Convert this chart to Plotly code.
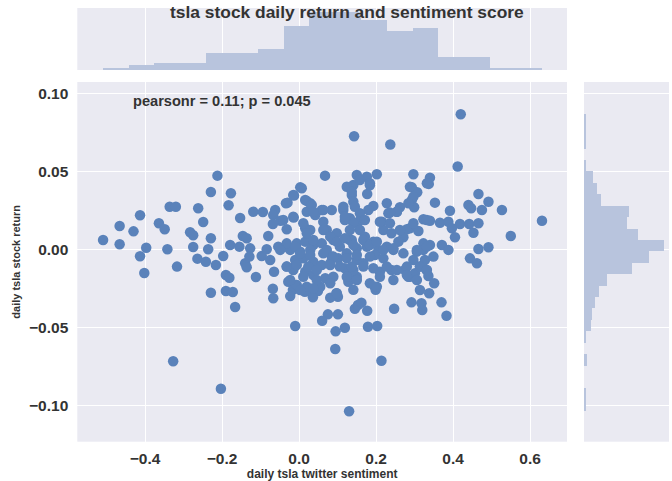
import numpy as np
import plotly.graph_objects as go

# ---- data ----
points = [
    (-0.509,0.006),(-0.466,0.0149),(-0.466,0.0032),(-0.430,0.0115),(-0.413,0.0218),(-0.413,-0.0045),(-0.397,0.001),
    (-0.402,-0.0152),(-0.364,0.0167),(-0.349,0.0128),(-0.336,0.0273),(-0.320,0.0273),(-0.342,0.0),(-0.317,-0.0111),
    (-0.283,0.0109),(-0.275,0.009),(-0.275,0.0015),(-0.264,-0.006),(-0.262,0.0263),
    (-0.212,0.0472),(-0.229,0.0367),(-0.177,0.0359),(-0.183,0.0282),(-0.249,0.0175),(-0.153,0.0201),(-0.119,0.0241),
    (-0.094,0.0239),(-0.062,0.0252),(-0.067,0.022),(-0.030,0.0299),(-0.013,0.0344),(0.003,0.0397),(-0.014,0.0203),
    (-0.048,0.0183),(-0.068,0.0162),(-0.032,0.0128),(-0.229,0.0071),(-0.146,0.0085),(-0.136,0.0071),(-0.080,0.0085),
    (-0.236,0.0),(-0.179,0.0028),(-0.155,0.0017),(-0.127,0.0006),(-0.084,0.0),(-0.054,0.0017),(-0.032,0.0017),
    (-0.008,0.0017),(-0.242,-0.008),(-0.216,-0.0101),(-0.197,-0.0043),(-0.140,-0.009),(-0.136,-0.0115),(-0.129,-0.0047),
    (-0.097,-0.0043),(-0.075,-0.0069),(-0.065,-0.0144),(-0.032,-0.0111),(-0.013,-0.0115),(-0.190,-0.0165),(-0.181,-0.0182),
    (-0.112,-0.0178),(-0.028,-0.0208),(-0.008,-0.0229),(-0.229,-0.0278),(-0.190,-0.0267),(-0.172,-0.0274),(-0.068,-0.0253),
    (-0.067,-0.0314),
    (-0.166,-0.037),(-0.016,-0.026),(0.015,-0.0272),(0.032,-0.0278),(0.049,-0.0267),(0.036,-0.0308),(-0.010,-0.0492),
    (0.097,-0.0282),(0.101,-0.0304),(0.075,-0.0417),(0.060,-0.0458),(0.101,-0.0417),(0.095,-0.0526),(0.119,-0.0503),
    (0.094,-0.0639),(0.130,-0.1038),(0.145,-0.0381),(0.153,-0.0357),(0.162,-0.0342),(0.177,-0.0394),(0.179,-0.0496),
    (0.203,-0.0492),(0.199,-0.026),(0.214,-0.0714),(0.247,-0.0381),(0.292,-0.034),(0.318,-0.0346),(0.320,-0.0389),
    (0.338,-0.0282),(0.370,-0.034),(0.383,-0.0426),(-0.327,-0.0718),(-0.203,-0.0894),
    (0.143,0.0724),(0.237,0.0671),(0.420,0.0865),
    (0.412,0.053),(0.297,0.0481),(0.340,0.0459),(0.337,0.0419),(0.293,0.0397),(0.307,0.0365),(0.293,0.0316),
    (0.299,0.0269),(0.353,0.0299),(0.392,0.0247),(0.466,0.0354),(0.440,0.0284),(0.447,0.0263),(0.492,0.0305),
    (0.475,0.0252),(0.527,0.0252),(0.631,0.0183),(0.323,0.0192),(0.340,0.0183),(0.366,0.017),(0.388,0.0177),
    (0.418,0.0162),(0.442,0.0162),(0.466,0.0167),(0.397,0.0135),(0.288,0.0135),(0.310,0.0117),(0.453,0.0106),
    (0.405,0.0077),(0.550,0.0085),(0.323,0.0038),(0.340,0.0028),(0.371,0.0028),(0.388,-0.0004),(0.466,0.0002),
    (0.492,0.0013),(0.444,-0.0058),(0.462,-0.009),(0.306,-0.0015),(0.323,-0.0004),(0.297,-0.0069),(0.314,-0.0111),
    (0.327,-0.0069),(0.349,-0.0047),(0.288,-0.0176),(0.331,-0.0133),(0.336,-0.0171),(0.351,-0.0218),
    (0.150,0.0476),(0.176,0.0465),(0.202,0.0481),(0.184,0.0423),(0.141,0.0412),(0.177,0.0354),(0.137,0.0348),
    (0.141,0.0305),(0.228,0.0295),(0.262,0.0269),(0.193,0.0278),(0.180,0.0252),(0.158,0.0231),(0.232,0.0231),
    (0.254,0.0241),(0.132,0.0199),(0.154,0.0177),(0.215,0.0177),(0.236,0.0167),(0.219,0.0124),(0.240,0.0103),
    (0.280,0.0128),(0.271,0.0077),(0.258,0.0049),(0.141,0.0167),(0.158,0.0124),(0.171,0.0081),(0.193,0.0049),
    (0.132,0.006),(0.150,0.0006),(0.176,0.0017),(0.206,-0.0004),(0.228,0.0017),(0.245,-0.0004),(0.271,-0.0026),
    (0.197,-0.0037),(0.219,-0.0058),(0.150,-0.0069),(0.167,-0.009),(0.137,-0.0154),(0.150,-0.0176),(0.210,-0.0144),
    (0.240,-0.0133),(0.275,-0.0133),(0.284,-0.0176),(0.301,-0.0154),(0.197,-0.024),
    (0.0675,0.0472),(0.007,0.0391),(-0.015,0.0348),(0.124,0.0401),(0.137,0.0369),(0.016,0.0316),(0.029,0.0295),
    (-0.015,0.0209),(0.059,0.0252),(0.085,0.0252),(0.020,0.0241),(0.042,0.022),(0.115,0.0252),(0.119,0.0188),
    (0.063,0.0177),(0.072,0.0124),(0.016,0.0135),(0.029,0.0124),(0.098,0.0103),(0.132,0.0124),(0.137,0.006),
    (-0.006,0.0038),(0.016,0.0049),(0.037,0.0028),(0.059,0.0038),(0.089,0.006),(0.106,0.0017),(-0.023,-0.0004),
    (0.003,-0.0015),(0.029,-0.0004),(0.072,-0.0004),(0.085,-0.0047),(0.124,-0.0026),(-0.010,-0.0069),(0.011,-0.0058),
    (0.037,-0.008),(0.059,-0.0101),(0.081,-0.009),(0.102,-0.0058),(0.119,-0.0122),(0.141,-0.0133),(-0.015,-0.0133),
    (0.016,-0.0144),(0.037,-0.0165),(0.068,-0.0186),(0.089,-0.0176),(0.128,-0.0208),(-0.006,-0.0229),(0.020,-0.024),
    (0.055,-0.024),(0.141,-0.026),(0.081,-0.031),(-0.023,-0.030),
    # dense core, read from a closer look
    (-0.034,0.0295),(0.158,0.0444),(0.184,0.041),(0.145,0.0273),(0.020,0.031),(0.033,0.0284),(0.288,0.040),
    (0.297,0.0337),(0.284,0.0295),(0.332,0.0423),(0.254,0.024),(0.236,0.0235),(-0.041,0.0188),(0.037,0.024),
    (0.063,0.0252),(0.115,0.0273),(0.119,0.0209),(0.171,0.0188),(0.210,0.0177),(0.262,0.0124),(0.297,0.0167),
    (0.332,0.0188),(0.011,0.0167),(0.020,0.0103),(0.037,0.006),(0.063,0.0124),(0.081,0.0081),(0.098,0.0049),
    (0.119,0.007),(0.141,0.0028),(0.167,0.006),(0.184,0.0028),(0.202,0.0049),(-0.032,0.0038),(-0.010,0.0017),
    (-0.049,-0.0004),(0.219,-0.0004),(0.245,0.0006),(0.306,-0.0004),(0.332,0.0017),(0.003,-0.0026),(0.029,-0.0037),
    (0.063,-0.0026),(0.089,-0.0047),(0.124,-0.0058),(0.150,-0.0037),(0.184,-0.0047),
    (-0.032,-0.0111),(-0.006,-0.0101),(0.024,-0.0111),(0.046,-0.0133),(0.081,-0.0101),(0.106,-0.0111),(0.137,-0.0111),
    (0.167,-0.0111),(0.193,-0.0122),(0.228,-0.0111),(0.254,-0.0133),(0.280,-0.0111),(0.314,-0.0111),(0.332,-0.0133),
    (-0.023,-0.0197),(0.011,-0.0176),(0.046,-0.0197),(0.081,-0.0218),(0.124,-0.0176),(0.150,-0.0197),(0.184,-0.0218),
    (0.210,-0.0176),(0.245,-0.0197),(0.280,-0.0165),(0.306,-0.0197),
    (0.003,-0.0261),(0.037,-0.025),(0.098,-0.0282),(0.202,-0.024),(0.314,-0.0261),
]
sentiment = [p[0] for p in points]
daily_return = [p[1] for p in points]

# top marginal histogram (sentiment), 17 bins
sent_bin_lo, sent_bin_hi = -0.509, 0.631
sent_counts = [2, 4, 6, 6, 14, 14, 18, 37, 49, 49, 42, 33, 35, 11, 11, 1, 1]
# right marginal histogram (return), 26 bins
ret_bin_lo, ret_bin_hi = -0.1038, 0.0865
ret_counts = [1, 1, 0, 0, 2, 0, 1, 5, 6, 8, 11, 17, 36, 49, 60, 41, 32, 34, 13, 10, 7, 1, 0, 1, 1, 1]

x_ticks = [-0.4, -0.2, 0.0, 0.2, 0.4, 0.6]
y_ticks = [-0.10, -0.05, 0.0, 0.05, 0.10]

title_text = "tsla stock daily return and sentiment score"
annot_text = "pearsonr = 0.11; p = 0.045"

# ---- styling ----
BG = "#EAEAF2"
PT = "#5A82BA"
HIST = "rgb(184,196,221)"
TXT = "#333333"
FONT = "Liberation Sans"

sent_edges = np.linspace(sent_bin_lo, sent_bin_hi, len(sent_counts) + 1)
ret_edges = np.linspace(ret_bin_lo, ret_bin_hi, len(ret_counts) + 1)

fig = go.Figure()
fig.add_trace(go.Scatter(x=sentiment, y=daily_return, mode="markers",
                         marker=dict(color=PT, size=10.5, line=dict(width=0)),
                         xaxis="x", yaxis="y", showlegend=False))
fig.add_trace(go.Bar(x=(sent_edges[:-1] + sent_edges[1:]) / 2, y=sent_counts,
                     width=np.diff(sent_edges), marker=dict(color=HIST, line=dict(width=0)),
                     xaxis="x2", yaxis="y2", showlegend=False))
fig.add_trace(go.Bar(y=(ret_edges[:-1] + ret_edges[1:]) / 2, x=ret_counts, orientation="h",
                     width=np.diff(ret_edges), marker=dict(color=HIST, line=dict(width=0)),
                     xaxis="x3", yaxis="y3", showlegend=False))

H = 481.0
W = 672.0
main_x = [77.3 / W, 567 / W]
main_y = [(H - 441.7) / H, (H - 82) / H]
top_y = [(H - 70) / H, (H - 8) / H]
right_x = [584 / W, 669 / W]

xr = [-0.576, 0.696]
yr = [-0.1233, 0.1072]

grid = dict(showgrid=True, gridcolor="white", gridwidth=1.3, zeroline=False, showline=False, ticks="",
            automargin=False)
nogrid = dict(showgrid=False, zeroline=False, showline=False, showticklabels=False, ticks="", automargin=False)

fig.update_layout(
    width=672, height=481,
    margin=dict(l=0, r=0, t=0, b=0, autoexpand=False),
    paper_bgcolor="white", plot_bgcolor=BG,
    bargap=0,
    font=dict(family=FONT, color=TXT),
    xaxis=dict(domain=main_x, range=xr, tickvals=x_ticks, ticktext=[f"{v:.1f}".replace("-", "\u2212") for v in x_ticks],
               tickfont=dict(size=15.5, family=FONT, color=TXT, weight="bold"), ticklabelstandoff=6,
               title=dict(text="<b>daily tsla twitter sentiment</b>", font=dict(size=12, color=TXT), standoff=4),
               anchor="y", **grid),
    yaxis=dict(domain=main_y, range=yr, tickvals=y_ticks, ticktext=[f"{v:.2f}".replace("-", "\u2212") for v in y_ticks],
               tickfont=dict(size=15.5, family=FONT, color=TXT, weight="bold"), ticklabelstandoff=8,
               title=dict(text="<b>daily tsla stock return</b>", font=dict(size=11, color=TXT), standoff=6),
               anchor="x", **grid),
    xaxis2=dict(domain=main_x, range=xr, tickvals=x_ticks, showticklabels=False, anchor="y2", **grid),
    yaxis2=dict(domain=top_y, range=[0, 52], anchor="x2", **nogrid),
    xaxis3=dict(domain=right_x, range=[0, 64], anchor="y3", **nogrid),
    yaxis3=dict(domain=main_y, range=yr, tickvals=y_ticks, showticklabels=False, anchor="x3", **grid),
    annotations=[
        dict(text=f"<b>{title_text}</b>", xref="paper", yref="paper", x=347 / W, y=(H - 12.5) / H,
             xanchor="center", yanchor="middle", showarrow=False, font=dict(size=17.4, color=TXT)),
        dict(text=f"<b>{annot_text}</b>", xref="paper", yref="paper", x=131 / W, y=(H - 101) / H,
             xanchor="left", yanchor="middle", showarrow=False, font=dict(size=14.6, color=TXT)),
    ],
)

fig.write_html("out.html", config={"displayModeBar": False},
               post_script="document.body.style.margin='0px';document.body.style.overflow='hidden';")
